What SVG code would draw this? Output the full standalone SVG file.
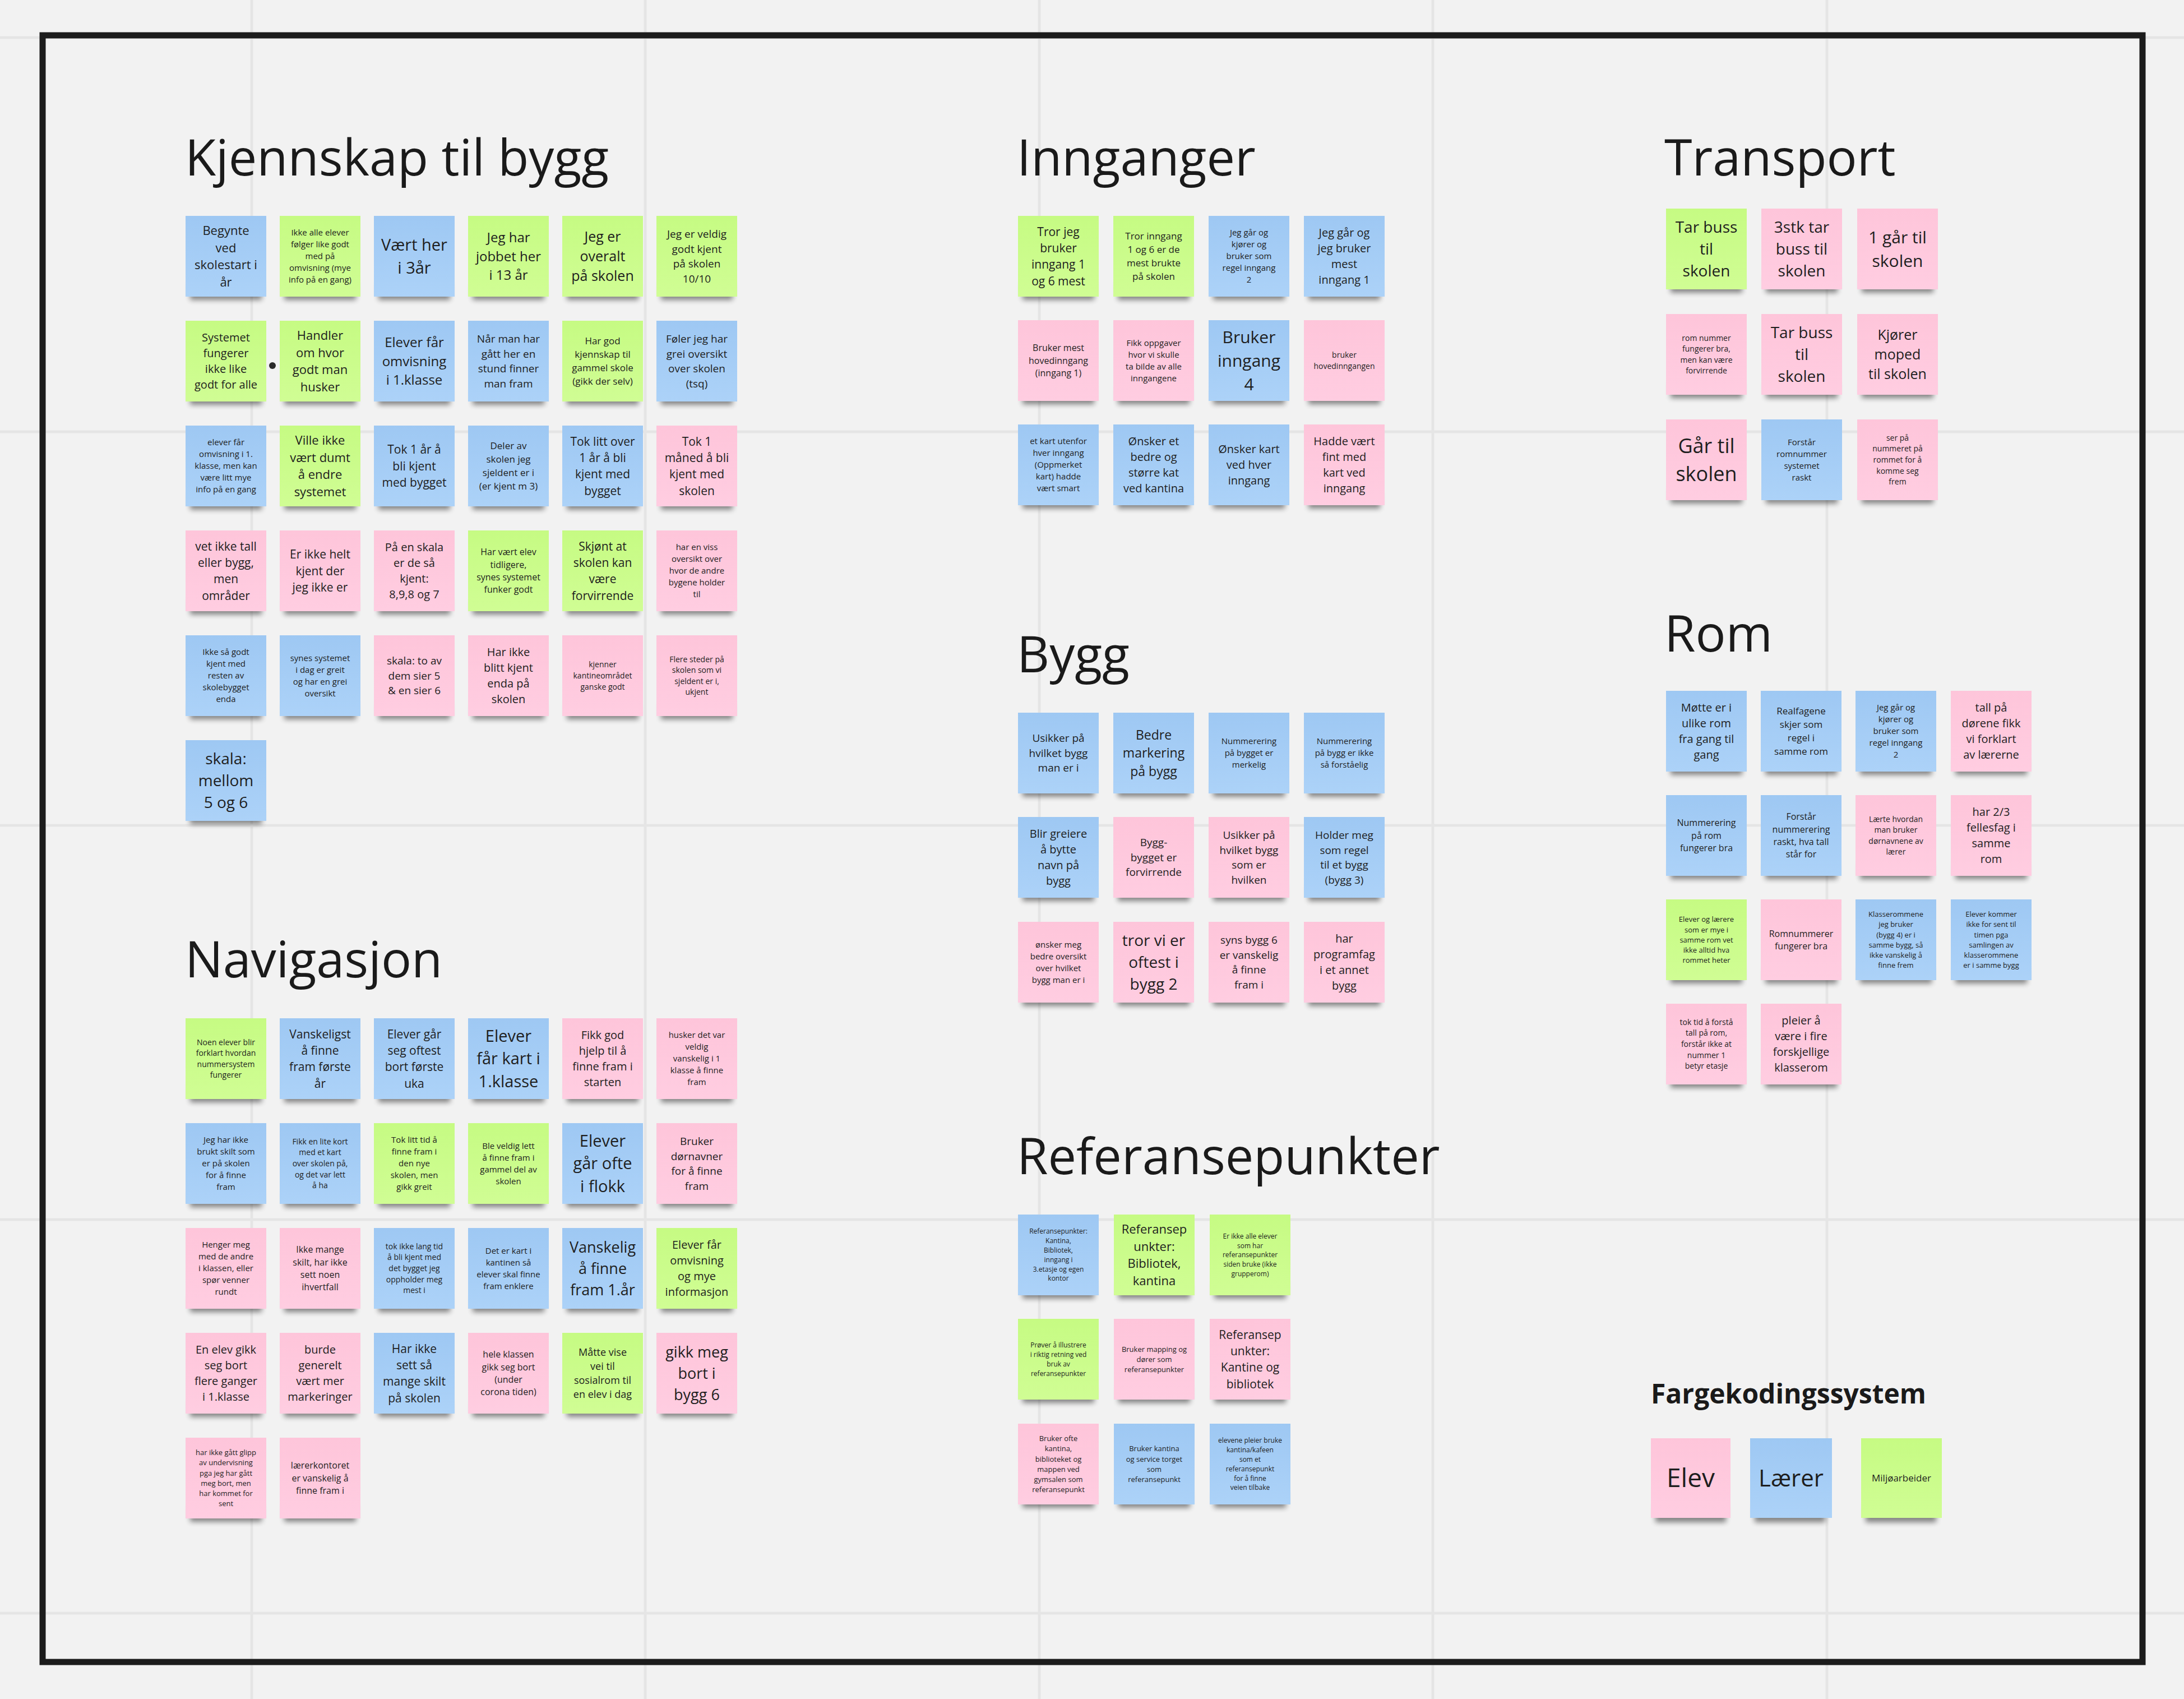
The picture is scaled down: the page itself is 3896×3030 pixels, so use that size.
<svg xmlns="http://www.w3.org/2000/svg" width="3896" height="3030" viewBox="0 0 3896 3030">
<defs>
<linearGradient id="gb" x1="0" y1="0" x2="0" y2="1"><stop offset="0" stop-color="#9ec8f3"/><stop offset="1" stop-color="#acd2f8"/></linearGradient>
<linearGradient id="gp" x1="0" y1="0" x2="0" y2="1"><stop offset="0" stop-color="#fec5da"/><stop offset="1" stop-color="#ffcde1"/></linearGradient>
<linearGradient id="gg" x1="0" y1="0" x2="0" y2="1"><stop offset="0" stop-color="#c6fb83"/><stop offset="1" stop-color="#d0fd94"/></linearGradient>
<filter id="blur" x="-20%" y="-60%" width="140%" height="220%"><feGaussianBlur stdDeviation="5"/></filter>
<style>
.bg{fill:#f2f2f2}
.grid{stroke:#e5e5e5;stroke-width:5}
.frame{fill:none;stroke:#1c1c1c;stroke-width:11}
.sd{fill:#000;opacity:.45;filter:url(#blur)}
.b{fill:url(#gb)}
.p{fill:url(#gp)}
.g{fill:url(#gg)}
.t{font-family:"Open Sans","Liberation Sans",sans-serif;text-anchor:middle;fill:#1e1e1e}
.h{font-family:"Open Sans","Liberation Sans",sans-serif;font-size:90px;fill:#1a1a1a}
.leg{font-family:"Open Sans","Liberation Sans",sans-serif;font-size:48px;font-weight:bold;fill:#1a1a1a}
</style>
</defs>
<rect class="bg" x="0" y="0" width="3896" height="3030"/>
<g id="grid">
<line class="grid" x1="449" y1="0" x2="449" y2="3030"/>
<line class="grid" x1="1151" y1="0" x2="1151" y2="3030"/>
<line class="grid" x1="1854" y1="0" x2="1854" y2="3030"/>
<line class="grid" x1="2556" y1="0" x2="2556" y2="3030"/>
<line class="grid" x1="3259" y1="0" x2="3259" y2="3030"/>
<line class="grid" x1="0" y1="67" x2="3896" y2="67"/>
<line class="grid" x1="0" y1="770" x2="3896" y2="770"/>
<line class="grid" x1="0" y1="1472" x2="3896" y2="1472"/>
<line class="grid" x1="0" y1="2175" x2="3896" y2="2175"/>
<line class="grid" x1="0" y1="2877" x2="3896" y2="2877"/>
</g>
<rect id="frame" class="frame" x="76" y="63" width="3746" height="2901"/>

<g id="titles">
<text class="h" x="330" y="313">Kjennskap til bygg</text>
<text class="h" x="330" y="1743">Navigasjon</text>
<text class="h" x="1814" y="313">Innganger</text>
<text class="h" x="1814" y="1199">Bygg</text>
<text class="h" x="1814" y="2094">Referansepunkter</text>
<text class="h" x="2969" y="313">Transport</text>
<text class="h" x="2969" y="1162">Rom</text>
<text class="leg" x="2945" y="2503">Fargekodingssystem</text>
</g>

<g id="connectors">
<circle cx="486" cy="652" r="6" fill="#2a2a2a"/>
</g>

<!-- Kjennskap til bygg -->
<g id="k11" transform="translate(331,385)"><rect class="sd" x="8" y="120" width="128" height="30"/><rect class="b" width="144" height="144"/><text class="t" font-size="22"><tspan x="72" y="34">Begynte</tspan><tspan x="72" y="65">ved</tspan><tspan x="72" y="95">skolestart i</tspan><tspan x="72" y="126">år</tspan></text></g>
<g id="k12" transform="translate(499,385)"><rect class="sd" x="8" y="120" width="128" height="30"/><rect class="g" width="144" height="144"/><text class="t" font-size="15"><tspan x="72" y="35">Ikke alle elever</tspan><tspan x="72" y="56">følger like godt</tspan><tspan x="72" y="77">med på</tspan><tspan x="72" y="98">omvisning (mye</tspan><tspan x="72" y="119">info på en gang)</tspan></text></g>
<g id="k13" transform="translate(667,385)"><rect class="sd" x="8" y="120" width="128" height="30"/><rect class="b" width="144" height="144"/><text class="t" font-size="29"><tspan x="72" y="62">Vært her</tspan><tspan x="72" y="103">i 3år</tspan></text></g>
<g id="k14" transform="translate(835,385)"><rect class="sd" x="8" y="120" width="128" height="30"/><rect class="g" width="144" height="144"/><text class="t" font-size="24"><tspan x="72" y="47">Jeg har</tspan><tspan x="72" y="81">jobbet her</tspan><tspan x="72" y="114">i 13 år</tspan></text></g>
<g id="k15" transform="translate(1003,385)"><rect class="sd" x="8" y="120" width="128" height="30"/><rect class="g" width="144" height="144"/><text class="t" font-size="25"><tspan x="72" y="46">Jeg er</tspan><tspan x="72" y="81">overalt</tspan><tspan x="72" y="116">på skolen</tspan></text></g>
<g id="k16" transform="translate(1171,385)"><rect class="sd" x="8" y="120" width="128" height="30"/><rect class="g" width="144" height="144"/><text class="t" font-size="19"><tspan x="72" y="39">Jeg er veldig</tspan><tspan x="72" y="66">godt kjent</tspan><tspan x="72" y="92">på skolen</tspan><tspan x="72" y="119">10/10</tspan></text></g>

<g id="k21" transform="translate(331,572)"><rect class="sd" x="8" y="120" width="128" height="30"/><rect class="g" width="144" height="144"/><text class="t" font-size="20"><tspan x="72" y="37">Systemet</tspan><tspan x="72" y="65">fungerer</tspan><tspan x="72" y="93">ikke like</tspan><tspan x="72" y="121">godt for alle</tspan></text></g>
<g id="k22" transform="translate(499,572)"><rect class="sd" x="8" y="120" width="128" height="30"/><rect class="g" width="144" height="144"/><text class="t" font-size="22"><tspan x="72" y="34">Handler</tspan><tspan x="72" y="65">om hvor</tspan><tspan x="72" y="95">godt man</tspan><tspan x="72" y="126">husker</tspan></text></g>
<g id="k23" transform="translate(667,572)"><rect class="sd" x="8" y="120" width="128" height="30"/><rect class="b" width="144" height="144"/><text class="t" font-size="24"><tspan x="72" y="47">Elever får</tspan><tspan x="72" y="81">omvisning</tspan><tspan x="72" y="114">i 1.klasse</tspan></text></g>
<g id="k24" transform="translate(835,572)"><rect class="sd" x="8" y="120" width="128" height="30"/><rect class="b" width="144" height="144"/><text class="t" font-size="19"><tspan x="72" y="39">Når man har</tspan><tspan x="72" y="66">gått her en</tspan><tspan x="72" y="92">stund finner</tspan><tspan x="72" y="119">man fram</tspan></text></g>
<g id="k25" transform="translate(1003,572)"><rect class="sd" x="8" y="120" width="128" height="30"/><rect class="g" width="144" height="144"/><text class="t" font-size="17"><tspan x="72" y="42">Har god</tspan><tspan x="72" y="66">kjennskap til</tspan><tspan x="72" y="90">gammel skole</tspan><tspan x="72" y="114">(gikk der selv)</tspan></text></g>
<g id="k26" transform="translate(1171,572)"><rect class="sd" x="8" y="120" width="128" height="30"/><rect class="b" width="144" height="144"/><text class="t" font-size="19"><tspan x="72" y="39">Føler jeg har</tspan><tspan x="72" y="66">grei oversikt</tspan><tspan x="72" y="92">over skolen</tspan><tspan x="72" y="119">(tsq)</tspan></text></g>

<g id="k31" transform="translate(331,759)"><rect class="sd" x="8" y="120" width="128" height="30"/><rect class="b" width="144" height="144"/><text class="t" font-size="15"><tspan x="72" y="35">elever får</tspan><tspan x="72" y="56">omvisning i 1.</tspan><tspan x="72" y="77">klasse, men kan</tspan><tspan x="72" y="98">være litt mye</tspan><tspan x="72" y="119">info på en gang</tspan></text></g>
<g id="k32" transform="translate(499,759)"><rect class="sd" x="8" y="120" width="128" height="30"/><rect class="g" width="144" height="144"/><text class="t" font-size="22"><tspan x="72" y="34">Ville ikke</tspan><tspan x="72" y="65">vært dumt</tspan><tspan x="72" y="95">å endre</tspan><tspan x="72" y="126">systemet</tspan></text></g>
<g id="k33" transform="translate(667,759)"><rect class="sd" x="8" y="120" width="128" height="30"/><rect class="b" width="144" height="144"/><text class="t" font-size="21"><tspan x="72" y="50">Tok 1 år å</tspan><tspan x="72" y="80">bli kjent</tspan><tspan x="72" y="109">med bygget</tspan></text></g>
<g id="k34" transform="translate(835,759)"><rect class="sd" x="8" y="120" width="128" height="30"/><rect class="b" width="144" height="144"/><text class="t" font-size="17"><tspan x="72" y="42">Deler av</tspan><tspan x="72" y="66">skolen jeg</tspan><tspan x="72" y="90">sjeldent er i</tspan><tspan x="72" y="114">(er kjent m 3)</tspan></text></g>
<g id="k35" transform="translate(1003,759)"><rect class="sd" x="8" y="120" width="128" height="30"/><rect class="b" width="144" height="144"/><text class="t" font-size="21"><tspan x="72" y="36">Tok litt over</tspan><tspan x="72" y="65">1 år å bli</tspan><tspan x="72" y="94">kjent med</tspan><tspan x="72" y="124">bygget</tspan></text></g>
<g id="k36" transform="translate(1171,759)"><rect class="sd" x="8" y="120" width="128" height="30"/><rect class="p" width="144" height="144"/><text class="t" font-size="21"><tspan x="72" y="36">Tok 1</tspan><tspan x="72" y="65">måned å bli</tspan><tspan x="72" y="94">kjent med</tspan><tspan x="72" y="124">skolen</tspan></text></g>

<g id="k41" transform="translate(331,946)"><rect class="sd" x="8" y="120" width="128" height="30"/><rect class="p" width="144" height="144"/><text class="t" font-size="21"><tspan x="72" y="36">vet ikke tall</tspan><tspan x="72" y="65">eller bygg,</tspan><tspan x="72" y="94">men</tspan><tspan x="72" y="124">områder</tspan></text></g>
<g id="k42" transform="translate(499,946)"><rect class="sd" x="8" y="120" width="128" height="30"/><rect class="p" width="144" height="144"/><text class="t" font-size="21"><tspan x="72" y="50">Er ikke helt</tspan><tspan x="72" y="80">kjent der</tspan><tspan x="72" y="109">jeg ikke er</tspan></text></g>
<g id="k43" transform="translate(667,946)"><rect class="sd" x="8" y="120" width="128" height="30"/><rect class="p" width="144" height="144"/><text class="t" font-size="20"><tspan x="72" y="37">På en skala</tspan><tspan x="72" y="65">er de så</tspan><tspan x="72" y="93">kjent:</tspan><tspan x="72" y="121">8,9,8 og 7</tspan></text></g>
<g id="k44" transform="translate(835,946)"><rect class="sd" x="8" y="120" width="128" height="30"/><rect class="g" width="144" height="144"/><text class="t" font-size="16"><tspan x="72" y="44">Har vært elev</tspan><tspan x="72" y="67">tidligere,</tspan><tspan x="72" y="89">synes systemet</tspan><tspan x="72" y="111">funker godt</tspan></text></g>
<g id="k45" transform="translate(1003,946)"><rect class="sd" x="8" y="120" width="128" height="30"/><rect class="g" width="144" height="144"/><text class="t" font-size="21"><tspan x="72" y="36">Skjønt at</tspan><tspan x="72" y="65">skolen kan</tspan><tspan x="72" y="94">være</tspan><tspan x="72" y="124">forvirrende</tspan></text></g>
<g id="k46" transform="translate(1171,946)"><rect class="sd" x="8" y="120" width="128" height="30"/><rect class="p" width="144" height="144"/><text class="t" font-size="15"><tspan x="72" y="35">har en viss</tspan><tspan x="72" y="56">oversikt over</tspan><tspan x="72" y="77">hvor de andre</tspan><tspan x="72" y="98">bygene holder</tspan><tspan x="72" y="119">til</tspan></text></g>

<g id="k51" transform="translate(331,1133)"><rect class="sd" x="8" y="120" width="128" height="30"/><rect class="b" width="144" height="144"/><text class="t" font-size="15"><tspan x="72" y="35">Ikke så godt</tspan><tspan x="72" y="56">kjent med</tspan><tspan x="72" y="77">resten av</tspan><tspan x="72" y="98">skolebygget</tspan><tspan x="72" y="119">enda</tspan></text></g>
<g id="k52" transform="translate(499,1133)"><rect class="sd" x="8" y="120" width="128" height="30"/><rect class="b" width="144" height="144"/><text class="t" font-size="15"><tspan x="72" y="46">synes systemet</tspan><tspan x="72" y="67">i dag er greit</tspan><tspan x="72" y="88">og har en grei</tspan><tspan x="72" y="109">oversikt</tspan></text></g>
<g id="k53" transform="translate(667,1133)"><rect class="sd" x="8" y="120" width="128" height="30"/><rect class="p" width="144" height="144"/><text class="t" font-size="19"><tspan x="72" y="52">skala: to av</tspan><tspan x="72" y="79">dem sier 5</tspan><tspan x="72" y="105">&amp; en sier 6</tspan></text></g>
<g id="k54" transform="translate(835,1133)"><rect class="sd" x="8" y="120" width="128" height="30"/><rect class="p" width="144" height="144"/><text class="t" font-size="20"><tspan x="72" y="37">Har ikke</tspan><tspan x="72" y="65">blitt kjent</tspan><tspan x="72" y="93">enda på</tspan><tspan x="72" y="121">skolen</tspan></text></g>
<g id="k55" transform="translate(1003,1133)"><rect class="sd" x="8" y="120" width="128" height="30"/><rect class="p" width="144" height="144"/><text class="t" font-size="14"><tspan x="72" y="57">kjenner</tspan><tspan x="72" y="77">kantineområdet</tspan><tspan x="72" y="97">ganske godt</tspan></text></g>
<g id="k56" transform="translate(1171,1133)"><rect class="sd" x="8" y="120" width="128" height="30"/><rect class="p" width="144" height="144"/><text class="t" font-size="14"><tspan x="72" y="48">Flere steder på</tspan><tspan x="72" y="67">skolen som vi</tspan><tspan x="72" y="87">sjeldent er i,</tspan><tspan x="72" y="106">ukjent</tspan></text></g>

<g id="k61" transform="translate(331,1320)"><rect class="sd" x="8" y="120" width="128" height="30"/><rect class="b" width="144" height="144"/><text class="t" font-size="28"><tspan x="72" y="43">skala:</tspan><tspan x="72" y="82">mellom</tspan><tspan x="72" y="121">5 og 6</tspan></text></g>

<!-- Navigasjon -->
<g id="n11" transform="translate(331,1816)"><rect class="sd" x="8" y="120" width="128" height="30"/><rect class="g" width="144" height="144"/><text class="t" font-size="14"><tspan x="72" y="48">Noen elever blir</tspan><tspan x="72" y="67">forklart hvordan</tspan><tspan x="72" y="87">nummersystem</tspan><tspan x="72" y="106">fungerer</tspan></text></g>
<g id="n12" transform="translate(499,1816)"><rect class="sd" x="8" y="120" width="128" height="30"/><rect class="b" width="144" height="144"/><text class="t" font-size="21"><tspan x="72" y="36">Vanskeligst</tspan><tspan x="72" y="65">å finne</tspan><tspan x="72" y="94">fram første</tspan><tspan x="72" y="124">år</tspan></text></g>
<g id="n13" transform="translate(667,1816)"><rect class="sd" x="8" y="120" width="128" height="30"/><rect class="b" width="144" height="144"/><text class="t" font-size="21"><tspan x="72" y="36">Elever går</tspan><tspan x="72" y="65">seg oftest</tspan><tspan x="72" y="94">bort første</tspan><tspan x="72" y="124">uka</tspan></text></g>
<g id="n14" transform="translate(835,1816)"><rect class="sd" x="8" y="120" width="128" height="30"/><rect class="b" width="144" height="144"/><text class="t" font-size="29"><tspan x="72" y="42">Elever</tspan><tspan x="72" y="82">får kart i</tspan><tspan x="72" y="123">1.klasse</tspan></text></g>
<g id="n15" transform="translate(1003,1816)"><rect class="sd" x="8" y="120" width="128" height="30"/><rect class="p" width="144" height="144"/><text class="t" font-size="20"><tspan x="72" y="37">Fikk god</tspan><tspan x="72" y="65">hjelp til å</tspan><tspan x="72" y="93">finne fram i</tspan><tspan x="72" y="121">starten</tspan></text></g>
<g id="n16" transform="translate(1171,1816)"><rect class="sd" x="8" y="120" width="128" height="30"/><rect class="p" width="144" height="144"/><text class="t" font-size="15"><tspan x="72" y="35">husker det var</tspan><tspan x="72" y="56">veldig</tspan><tspan x="72" y="77">vanskelig i 1</tspan><tspan x="72" y="98">klasse å finne</tspan><tspan x="72" y="119">fram</tspan></text></g>

<g id="n21" transform="translate(331,2003)"><rect class="sd" x="8" y="120" width="128" height="30"/><rect class="b" width="144" height="144"/><text class="t" font-size="15"><tspan x="72" y="35">Jeg har ikke</tspan><tspan x="72" y="56">brukt skilt som</tspan><tspan x="72" y="77">er på skolen</tspan><tspan x="72" y="98">for å finne</tspan><tspan x="72" y="119">fram</tspan></text></g>
<g id="n22" transform="translate(499,2003)"><rect class="sd" x="8" y="120" width="128" height="30"/><rect class="b" width="144" height="144"/><text class="t" font-size="14"><tspan x="72" y="38">Fikk en lite kort</tspan><tspan x="72" y="57">med et kart</tspan><tspan x="72" y="77">over skolen på,</tspan><tspan x="72" y="97">og det var lett</tspan><tspan x="72" y="116">å ha</tspan></text></g>
<g id="n23" transform="translate(667,2003)"><rect class="sd" x="8" y="120" width="128" height="30"/><rect class="g" width="144" height="144"/><text class="t" font-size="15"><tspan x="72" y="35">Tok litt tid å</tspan><tspan x="72" y="56">finne fram i</tspan><tspan x="72" y="77">den nye</tspan><tspan x="72" y="98">skolen, men</tspan><tspan x="72" y="119">gikk greit</tspan></text></g>
<g id="n24" transform="translate(835,2003)"><rect class="sd" x="8" y="120" width="128" height="30"/><rect class="g" width="144" height="144"/><text class="t" font-size="15"><tspan x="72" y="46">Ble veldig lett</tspan><tspan x="72" y="67">å finne fram i</tspan><tspan x="72" y="88">gammel del av</tspan><tspan x="72" y="109">skolen</tspan></text></g>
<g id="n25" transform="translate(1003,2003)"><rect class="sd" x="8" y="120" width="128" height="30"/><rect class="b" width="144" height="144"/><text class="t" font-size="29"><tspan x="72" y="42">Elever</tspan><tspan x="72" y="82">går ofte</tspan><tspan x="72" y="123">i flokk</tspan></text></g>
<g id="n26" transform="translate(1171,2003)"><rect class="sd" x="8" y="120" width="128" height="30"/><rect class="p" width="144" height="144"/><text class="t" font-size="19"><tspan x="72" y="39">Bruker</tspan><tspan x="72" y="66">dørnavner</tspan><tspan x="72" y="92">for å finne</tspan><tspan x="72" y="119">fram</tspan></text></g>

<g id="n31" transform="translate(331,2190)"><rect class="sd" x="8" y="120" width="128" height="30"/><rect class="p" width="144" height="144"/><text class="t" font-size="15"><tspan x="72" y="35">Henger meg</tspan><tspan x="72" y="56">med de andre</tspan><tspan x="72" y="77">i klassen, eller</tspan><tspan x="72" y="98">spør venner</tspan><tspan x="72" y="119">rundt</tspan></text></g>
<g id="n32" transform="translate(499,2190)"><rect class="sd" x="8" y="120" width="128" height="30"/><rect class="p" width="144" height="144"/><text class="t" font-size="16"><tspan x="72" y="44">Ikke mange</tspan><tspan x="72" y="67">skilt, har ikke</tspan><tspan x="72" y="89">sett noen</tspan><tspan x="72" y="111">ihvertfall</tspan></text></g>
<g id="n33" transform="translate(667,2190)"><rect class="sd" x="8" y="120" width="128" height="30"/><rect class="b" width="144" height="144"/><text class="t" font-size="14"><tspan x="72" y="38">tok ikke lang tid</tspan><tspan x="72" y="57">å bli kjent med</tspan><tspan x="72" y="77">det bygget jeg</tspan><tspan x="72" y="97">oppholder meg</tspan><tspan x="72" y="116">mest i</tspan></text></g>
<g id="n34" transform="translate(835,2190)"><rect class="sd" x="8" y="120" width="128" height="30"/><rect class="b" width="144" height="144"/><text class="t" font-size="15"><tspan x="72" y="46">Det er kart i</tspan><tspan x="72" y="67">kantinen så</tspan><tspan x="72" y="88">elever skal finne</tspan><tspan x="72" y="109">fram enklere</tspan></text></g>
<g id="n35" transform="translate(1003,2190)"><rect class="sd" x="8" y="120" width="128" height="30"/><rect class="b" width="144" height="144"/><text class="t" font-size="27"><tspan x="72" y="44">Vanskelig</tspan><tspan x="72" y="82">å finne</tspan><tspan x="72" y="120">fram 1.år</tspan></text></g>
<g id="n36" transform="translate(1171,2190)"><rect class="sd" x="8" y="120" width="128" height="30"/><rect class="g" width="144" height="144"/><text class="t" font-size="20"><tspan x="72" y="37">Elever får</tspan><tspan x="72" y="65">omvisning</tspan><tspan x="72" y="93">og mye</tspan><tspan x="72" y="121">informasjon</tspan></text></g>

<g id="n41" transform="translate(331,2377)"><rect class="sd" x="8" y="120" width="128" height="30"/><rect class="p" width="144" height="144"/><text class="t" font-size="20"><tspan x="72" y="37">En elev gikk</tspan><tspan x="72" y="65">seg bort</tspan><tspan x="72" y="93">flere ganger</tspan><tspan x="72" y="121">i 1.klasse</tspan></text></g>
<g id="n42" transform="translate(499,2377)"><rect class="sd" x="8" y="120" width="128" height="30"/><rect class="p" width="144" height="144"/><text class="t" font-size="20"><tspan x="72" y="37">burde</tspan><tspan x="72" y="65">generelt</tspan><tspan x="72" y="93">vært mer</tspan><tspan x="72" y="121">markeringer</tspan></text></g>
<g id="n43" transform="translate(667,2377)"><rect class="sd" x="8" y="120" width="128" height="30"/><rect class="b" width="144" height="144"/><text class="t" font-size="21"><tspan x="72" y="36">Har ikke</tspan><tspan x="72" y="65">sett så</tspan><tspan x="72" y="94">mange skilt</tspan><tspan x="72" y="124">på skolen</tspan></text></g>
<g id="n44" transform="translate(835,2377)"><rect class="sd" x="8" y="120" width="128" height="30"/><rect class="p" width="144" height="144"/><text class="t" font-size="16"><tspan x="72" y="44">hele klassen</tspan><tspan x="72" y="67">gikk seg bort</tspan><tspan x="72" y="89">(under</tspan><tspan x="72" y="111">corona tiden)</tspan></text></g>
<g id="n45" transform="translate(1003,2377)"><rect class="sd" x="8" y="120" width="128" height="30"/><rect class="g" width="144" height="144"/><text class="t" font-size="18"><tspan x="72" y="41">Måtte vise</tspan><tspan x="72" y="66">vei til</tspan><tspan x="72" y="91">sosialrom til</tspan><tspan x="72" y="116">en elev i dag</tspan></text></g>
<g id="n46" transform="translate(1171,2377)"><rect class="sd" x="8" y="120" width="128" height="30"/><rect class="p" width="144" height="144"/><text class="t" font-size="27"><tspan x="72" y="44">gikk meg</tspan><tspan x="72" y="82">bort i</tspan><tspan x="72" y="120">bygg 6</tspan></text></g>

<g id="n51" transform="translate(331,2564)"><rect class="sd" x="8" y="120" width="128" height="30"/><rect class="p" width="144" height="144"/><text class="t" font-size="13"><tspan x="72" y="31">har ikke gått glipp</tspan><tspan x="72" y="49">av undervisning</tspan><tspan x="72" y="68">pga jeg har gått</tspan><tspan x="72" y="86">meg bort, men</tspan><tspan x="72" y="104">har kommet for</tspan><tspan x="72" y="122">sent</tspan></text></g>
<g id="n52" transform="translate(499,2564)"><rect class="sd" x="8" y="120" width="128" height="30"/><rect class="p" width="144" height="144"/><text class="t" font-size="16"><tspan x="72" y="55">lærerkontoret</tspan><tspan x="72" y="78">er vanskelig å</tspan><tspan x="72" y="100">finne fram i</tspan></text></g>

<!-- Innganger -->
<g id="i11" transform="translate(1816,385)"><rect class="sd" x="8" y="120" width="128" height="30"/><rect class="g" width="144" height="144"/><text class="t" font-size="21"><tspan x="72" y="36">Tror jeg</tspan><tspan x="72" y="65">bruker</tspan><tspan x="72" y="94">inngang 1</tspan><tspan x="72" y="124">og 6 mest</tspan></text></g>
<g id="i12" transform="translate(1986,385)"><rect class="sd" x="8" y="120" width="128" height="30"/><rect class="g" width="144" height="144"/><text class="t" font-size="17"><tspan x="72" y="42">Tror inngang</tspan><tspan x="72" y="66">1 og 6 er de</tspan><tspan x="72" y="90">mest brukte</tspan><tspan x="72" y="114">på skolen</tspan></text></g>
<g id="i13" transform="translate(2156,385)"><rect class="sd" x="8" y="120" width="128" height="30"/><rect class="b" width="144" height="144"/><text class="t" font-size="15"><tspan x="72" y="35">Jeg går og</tspan><tspan x="72" y="56">kjører og</tspan><tspan x="72" y="77">bruker som</tspan><tspan x="72" y="98">regel inngang</tspan><tspan x="72" y="119">2</tspan></text></g>
<g id="i14" transform="translate(2326,385)"><rect class="sd" x="8" y="120" width="128" height="30"/><rect class="b" width="144" height="144"/><text class="t" font-size="20"><tspan x="72" y="37">Jeg går og</tspan><tspan x="72" y="65">jeg bruker</tspan><tspan x="72" y="93">mest</tspan><tspan x="72" y="121">inngang 1</tspan></text></g>
<g id="i21" transform="translate(1816,571)"><rect class="sd" x="8" y="120" width="128" height="30"/><rect class="p" width="144" height="144"/><text class="t" font-size="16"><tspan x="72" y="55">Bruker mest</tspan><tspan x="72" y="78">hovedinngang</tspan><tspan x="72" y="100">(inngang 1)</tspan></text></g>
<g id="i22" transform="translate(1986,571)"><rect class="sd" x="8" y="120" width="128" height="30"/><rect class="p" width="144" height="144"/><text class="t" font-size="15"><tspan x="72" y="46">Fikk oppgaver</tspan><tspan x="72" y="67">hvor vi skulle</tspan><tspan x="72" y="88">ta bilde av alle</tspan><tspan x="72" y="109">inngangene</tspan></text></g>
<g id="i23" transform="translate(2156,571)"><rect class="sd" x="8" y="120" width="128" height="30"/><rect class="b" width="144" height="144"/><text class="t" font-size="30"><tspan x="72" y="41">Bruker</tspan><tspan x="72" y="83">inngang</tspan><tspan x="72" y="125">4</tspan></text></g>
<g id="i24" transform="translate(2326,571)"><rect class="sd" x="8" y="120" width="128" height="30"/><rect class="p" width="144" height="144"/><text class="t" font-size="14"><tspan x="72" y="67">bruker</tspan><tspan x="72" y="87">hovedinngangen</tspan></text></g>
<g id="i31" transform="translate(1816,757)"><rect class="sd" x="8" y="120" width="128" height="30"/><rect class="b" width="144" height="144"/><text class="t" font-size="15"><tspan x="72" y="35">et kart utenfor</tspan><tspan x="72" y="56">hver inngang</tspan><tspan x="72" y="77">(Oppmerket</tspan><tspan x="72" y="98">kart) hadde</tspan><tspan x="72" y="119">vært smart</tspan></text></g>
<g id="i32" transform="translate(1986,757)"><rect class="sd" x="8" y="120" width="128" height="30"/><rect class="b" width="144" height="144"/><text class="t" font-size="20"><tspan x="72" y="37">Ønsker et</tspan><tspan x="72" y="65">bedre og</tspan><tspan x="72" y="93">større kat</tspan><tspan x="72" y="121">ved kantina</tspan></text></g>
<g id="i33" transform="translate(2156,757)"><rect class="sd" x="8" y="120" width="128" height="30"/><rect class="b" width="144" height="144"/><text class="t" font-size="20"><tspan x="72" y="51">Ønsker kart</tspan><tspan x="72" y="79">ved hver</tspan><tspan x="72" y="107">inngang</tspan></text></g>
<g id="i34" transform="translate(2326,757)"><rect class="sd" x="8" y="120" width="128" height="30"/><rect class="p" width="144" height="144"/><text class="t" font-size="20"><tspan x="72" y="37">Hadde vært</tspan><tspan x="72" y="65">fint med</tspan><tspan x="72" y="93">kart ved</tspan><tspan x="72" y="121">inngang</tspan></text></g>

<!-- Bygg -->
<g id="b11" transform="translate(1816,1271)"><rect class="sd" x="8" y="120" width="128" height="30"/><rect class="b" width="144" height="144"/><text class="t" font-size="19"><tspan x="72" y="52">Usikker på</tspan><tspan x="72" y="79">hvilket bygg</tspan><tspan x="72" y="105">man er i</tspan></text></g>
<g id="b12" transform="translate(1986,1271)"><rect class="sd" x="8" y="120" width="128" height="30"/><rect class="b" width="144" height="144"/><text class="t" font-size="23"><tspan x="72" y="48">Bedre</tspan><tspan x="72" y="80">markering</tspan><tspan x="72" y="113">på bygg</tspan></text></g>
<g id="b13" transform="translate(2156,1271)"><rect class="sd" x="8" y="120" width="128" height="30"/><rect class="b" width="144" height="144"/><text class="t" font-size="15"><tspan x="72" y="56">Nummerering</tspan><tspan x="72" y="77">på bygget er</tspan><tspan x="72" y="98">merkelig</tspan></text></g>
<g id="b14" transform="translate(2326,1271)"><rect class="sd" x="8" y="120" width="128" height="30"/><rect class="b" width="144" height="144"/><text class="t" font-size="15"><tspan x="72" y="56">Nummerering</tspan><tspan x="72" y="77">på bygg er ikke</tspan><tspan x="72" y="98">så forståelig</tspan></text></g>
<g id="b21" transform="translate(1816,1457)"><rect class="sd" x="8" y="120" width="128" height="30"/><rect class="b" width="144" height="144"/><text class="t" font-size="20"><tspan x="72" y="37">Blir greiere</tspan><tspan x="72" y="65">å bytte</tspan><tspan x="72" y="93">navn på</tspan><tspan x="72" y="121">bygg</tspan></text></g>
<g id="b22" transform="translate(1986,1457)"><rect class="sd" x="8" y="120" width="128" height="30"/><rect class="p" width="144" height="144"/><text class="t" font-size="19"><tspan x="72" y="52">Bygg-</tspan><tspan x="72" y="79">bygget er</tspan><tspan x="72" y="105">forvirrende</tspan></text></g>
<g id="b23" transform="translate(2156,1457)"><rect class="sd" x="8" y="120" width="128" height="30"/><rect class="p" width="144" height="144"/><text class="t" font-size="19"><tspan x="72" y="39">Usikker på</tspan><tspan x="72" y="66">hvilket bygg</tspan><tspan x="72" y="92">som er</tspan><tspan x="72" y="119">hvilken</tspan></text></g>
<g id="b24" transform="translate(2326,1457)"><rect class="sd" x="8" y="120" width="128" height="30"/><rect class="b" width="144" height="144"/><text class="t" font-size="19"><tspan x="72" y="39">Holder meg</tspan><tspan x="72" y="66">som regel</tspan><tspan x="72" y="92">til et bygg</tspan><tspan x="72" y="119">(bygg 3)</tspan></text></g>
<g id="b31" transform="translate(1816,1644)"><rect class="sd" x="8" y="120" width="128" height="30"/><rect class="p" width="144" height="144"/><text class="t" font-size="15"><tspan x="72" y="46">ønsker meg</tspan><tspan x="72" y="67">bedre oversikt</tspan><tspan x="72" y="88">over hvilket</tspan><tspan x="72" y="109">bygg man er i</tspan></text></g>
<g id="b32" transform="translate(1986,1644)"><rect class="sd" x="8" y="120" width="128" height="30"/><rect class="p" width="144" height="144"/><text class="t" font-size="28"><tspan x="72" y="43">tror vi er</tspan><tspan x="72" y="82">oftest i</tspan><tspan x="72" y="121">bygg 2</tspan></text></g>
<g id="b33" transform="translate(2156,1644)"><rect class="sd" x="8" y="120" width="128" height="30"/><rect class="p" width="144" height="144"/><text class="t" font-size="19"><tspan x="72" y="39">syns bygg 6</tspan><tspan x="72" y="66">er vanskelig</tspan><tspan x="72" y="92">å finne</tspan><tspan x="72" y="119">fram i</tspan></text></g>
<g id="b34" transform="translate(2326,1644)"><rect class="sd" x="8" y="120" width="128" height="30"/><rect class="p" width="144" height="144"/><text class="t" font-size="20"><tspan x="72" y="37">har</tspan><tspan x="72" y="65">programfag</tspan><tspan x="72" y="93">i et annet</tspan><tspan x="72" y="121">bygg</tspan></text></g>

<!-- Referansepunkter -->
<g id="r11" transform="translate(1816,2166)"><rect class="sd" x="8" y="120" width="128" height="30"/><rect class="b" width="144" height="144"/><text class="t" font-size="12"><tspan x="72" y="34">Referansepunkter:</tspan><tspan x="72" y="51">Kantina,</tspan><tspan x="72" y="68">Bibliotek,</tspan><tspan x="72" y="85">inngang i</tspan><tspan x="72" y="102">3.etasje og egen</tspan><tspan x="72" y="118">kontor</tspan></text></g>
<g id="r12" transform="translate(1987,2166)"><rect class="sd" x="8" y="120" width="128" height="30"/><rect class="g" width="144" height="144"/><text class="t" font-size="22"><tspan x="72" y="34">Referansep</tspan><tspan x="72" y="65">unkter:</tspan><tspan x="72" y="95">Bibliotek,</tspan><tspan x="72" y="126">kantina</tspan></text></g>
<g id="r13" transform="translate(2158,2166)"><rect class="sd" x="8" y="120" width="128" height="30"/><rect class="g" width="144" height="144"/><text class="t" font-size="12"><tspan x="72" y="43">Er ikke alle elever</tspan><tspan x="72" y="60">som har</tspan><tspan x="72" y="76">referansepunkter</tspan><tspan x="72" y="93">siden bruke (ikke</tspan><tspan x="72" y="110">grupperom)</tspan></text></g>
<g id="r21" transform="translate(1816,2352)"><rect class="sd" x="8" y="120" width="128" height="30"/><rect class="g" width="144" height="144"/><text class="t" font-size="12"><tspan x="72" y="51">Prøver å illustrere</tspan><tspan x="72" y="68">i riktig retning ved</tspan><tspan x="72" y="85">bruk av</tspan><tspan x="72" y="102">referansepunkter</tspan></text></g>
<g id="r22" transform="translate(1987,2352)"><rect class="sd" x="8" y="120" width="128" height="30"/><rect class="p" width="144" height="144"/><text class="t" font-size="13"><tspan x="72" y="59">Bruker mapping og</tspan><tspan x="72" y="77">dører som</tspan><tspan x="72" y="95">referansepunkter</tspan></text></g>
<g id="r23" transform="translate(2158,2352)"><rect class="sd" x="8" y="120" width="128" height="30"/><rect class="p" width="144" height="144"/><text class="t" font-size="21"><tspan x="72" y="36">Referansep</tspan><tspan x="72" y="65">unkter:</tspan><tspan x="72" y="94">Kantine og</tspan><tspan x="72" y="124">bibliotek</tspan></text></g>
<g id="r31" transform="translate(1816,2539)"><rect class="sd" x="8" y="120" width="128" height="30"/><rect class="p" width="144" height="144"/><text class="t" font-size="13"><tspan x="72" y="31">Bruker ofte</tspan><tspan x="72" y="49">kantina,</tspan><tspan x="72" y="68">biblioteket og</tspan><tspan x="72" y="86">mappen ved</tspan><tspan x="72" y="104">gymsalen som</tspan><tspan x="72" y="122">referansepunkt</tspan></text></g>
<g id="r32" transform="translate(1987,2539)"><rect class="sd" x="8" y="120" width="128" height="30"/><rect class="b" width="144" height="144"/><text class="t" font-size="13"><tspan x="72" y="49">Bruker kantina</tspan><tspan x="72" y="68">og service torget</tspan><tspan x="72" y="86">som</tspan><tspan x="72" y="104">referansepunkt</tspan></text></g>
<g id="r33" transform="translate(2158,2539)"><rect class="sd" x="8" y="120" width="128" height="30"/><rect class="b" width="144" height="144"/><text class="t" font-size="12"><tspan x="72" y="34">elevene pleier bruke</tspan><tspan x="72" y="51">kantina/kafeen</tspan><tspan x="72" y="68">som et</tspan><tspan x="72" y="85">referansepunkt</tspan><tspan x="72" y="102">for å finne</tspan><tspan x="72" y="118">veien tilbake</tspan></text></g>

<!-- Transport -->
<g id="t11" transform="translate(2972,372)"><rect class="sd" x="8" y="120" width="128" height="30"/><rect class="g" width="144" height="144"/><text class="t" font-size="28"><tspan x="72" y="43">Tar buss</tspan><tspan x="72" y="82">til</tspan><tspan x="72" y="121">skolen</tspan></text></g>
<g id="t12" transform="translate(3142,372)"><rect class="sd" x="8" y="120" width="128" height="30"/><rect class="p" width="144" height="144"/><text class="t" font-size="28"><tspan x="72" y="43">3stk tar</tspan><tspan x="72" y="82">buss til</tspan><tspan x="72" y="121">skolen</tspan></text></g>
<g id="t13" transform="translate(3313,372)"><rect class="sd" x="8" y="120" width="128" height="30"/><rect class="p" width="144" height="144"/><text class="t" font-size="30"><tspan x="72" y="62">1 går til</tspan><tspan x="72" y="104">skolen</tspan></text></g>
<g id="t21" transform="translate(2972,560)"><rect class="sd" x="8" y="120" width="128" height="30"/><rect class="p" width="144" height="144"/><text class="t" font-size="14"><tspan x="72" y="48">rom nummer</tspan><tspan x="72" y="67">fungerer bra,</tspan><tspan x="72" y="87">men kan være</tspan><tspan x="72" y="106">forvirrende</tspan></text></g>
<g id="t22" transform="translate(3142,560)"><rect class="sd" x="8" y="120" width="128" height="30"/><rect class="p" width="144" height="144"/><text class="t" font-size="28"><tspan x="72" y="43">Tar buss</tspan><tspan x="72" y="82">til</tspan><tspan x="72" y="121">skolen</tspan></text></g>
<g id="t23" transform="translate(3313,560)"><rect class="sd" x="8" y="120" width="128" height="30"/><rect class="p" width="144" height="144"/><text class="t" font-size="25"><tspan x="72" y="46">Kjører</tspan><tspan x="72" y="81">moped</tspan><tspan x="72" y="116">til skolen</tspan></text></g>
<g id="t31" transform="translate(2972,748)"><rect class="sd" x="8" y="120" width="128" height="30"/><rect class="p" width="144" height="144"/><text class="t" font-size="36"><tspan x="72" y="60">Går til</tspan><tspan x="72" y="110">skolen</tspan></text></g>
<g id="t32" transform="translate(3142,748)"><rect class="sd" x="8" y="120" width="128" height="30"/><rect class="b" width="144" height="144"/><text class="t" font-size="15"><tspan x="72" y="46">Forstår</tspan><tspan x="72" y="67">romnummer</tspan><tspan x="72" y="88">systemet</tspan><tspan x="72" y="109">raskt</tspan></text></g>
<g id="t33" transform="translate(3313,748)"><rect class="sd" x="8" y="120" width="128" height="30"/><rect class="p" width="144" height="144"/><text class="t" font-size="14"><tspan x="72" y="38">ser på</tspan><tspan x="72" y="57">nummeret på</tspan><tspan x="72" y="77">rommet for å</tspan><tspan x="72" y="97">komme seg</tspan><tspan x="72" y="116">frem</tspan></text></g>

<!-- Rom -->
<g id="o11" transform="translate(2972,1232)"><rect class="sd" x="8" y="120" width="128" height="30"/><rect class="b" width="144" height="144"/><text class="t" font-size="20"><tspan x="72" y="37">Møtte er i</tspan><tspan x="72" y="65">ulike rom</tspan><tspan x="72" y="93">fra gang til</tspan><tspan x="72" y="121">gang</tspan></text></g>
<g id="o12" transform="translate(3141,1232)"><rect class="sd" x="8" y="120" width="128" height="30"/><rect class="b" width="144" height="144"/><text class="t" font-size="17"><tspan x="72" y="42">Realfagene</tspan><tspan x="72" y="66">skjer som</tspan><tspan x="72" y="90">regel i</tspan><tspan x="72" y="114">samme rom</tspan></text></g>
<g id="o13" transform="translate(3310,1232)"><rect class="sd" x="8" y="120" width="128" height="30"/><rect class="b" width="144" height="144"/><text class="t" font-size="15"><tspan x="72" y="35">Jeg går og</tspan><tspan x="72" y="56">kjører og</tspan><tspan x="72" y="77">bruker som</tspan><tspan x="72" y="98">regel inngang</tspan><tspan x="72" y="119">2</tspan></text></g>
<g id="o14" transform="translate(3480,1232)"><rect class="sd" x="8" y="120" width="128" height="30"/><rect class="p" width="144" height="144"/><text class="t" font-size="20"><tspan x="72" y="37">tall på</tspan><tspan x="72" y="65">dørene fikk</tspan><tspan x="72" y="93">vi forklart</tspan><tspan x="72" y="121">av lærerne</tspan></text></g>
<g id="o21" transform="translate(2972,1418)"><rect class="sd" x="8" y="120" width="128" height="30"/><rect class="b" width="144" height="144"/><text class="t" font-size="16"><tspan x="72" y="55">Nummerering</tspan><tspan x="72" y="78">på rom</tspan><tspan x="72" y="100">fungerer bra</tspan></text></g>
<g id="o22" transform="translate(3141,1418)"><rect class="sd" x="8" y="120" width="128" height="30"/><rect class="b" width="144" height="144"/><text class="t" font-size="16"><tspan x="72" y="44">Forstår</tspan><tspan x="72" y="67">nummerering</tspan><tspan x="72" y="89">raskt, hva tall</tspan><tspan x="72" y="111">står for</tspan></text></g>
<g id="o23" transform="translate(3310,1418)"><rect class="sd" x="8" y="120" width="128" height="30"/><rect class="p" width="144" height="144"/><text class="t" font-size="14"><tspan x="72" y="48">Lærte hvordan</tspan><tspan x="72" y="67">man bruker</tspan><tspan x="72" y="87">dørnavnene av</tspan><tspan x="72" y="106">lærer</tspan></text></g>
<g id="o24" transform="translate(3480,1418)"><rect class="sd" x="8" y="120" width="128" height="30"/><rect class="p" width="144" height="144"/><text class="t" font-size="20"><tspan x="72" y="37">har 2/3</tspan><tspan x="72" y="65">fellesfag i</tspan><tspan x="72" y="93">samme</tspan><tspan x="72" y="121">rom</tspan></text></g>
<g id="o31" transform="translate(2972,1604)"><rect class="sd" x="8" y="120" width="128" height="30"/><rect class="g" width="144" height="144"/><text class="t" font-size="13"><tspan x="72" y="40">Elever og lærere</tspan><tspan x="72" y="59">som er mye i</tspan><tspan x="72" y="77">samme rom vet</tspan><tspan x="72" y="95">ikke alltid hva</tspan><tspan x="72" y="113">rommet heter</tspan></text></g>
<g id="o32" transform="translate(3141,1604)"><rect class="sd" x="8" y="120" width="128" height="30"/><rect class="p" width="144" height="144"/><text class="t" font-size="16"><tspan x="72" y="67">Romnummerer</tspan><tspan x="72" y="89">fungerer bra</tspan></text></g>
<g id="o33" transform="translate(3310,1604)"><rect class="sd" x="8" y="120" width="128" height="30"/><rect class="b" width="144" height="144"/><text class="t" font-size="13"><tspan x="72" y="31">Klasserommene</tspan><tspan x="72" y="49">jeg bruker</tspan><tspan x="72" y="68">(bygg 4) er i</tspan><tspan x="72" y="86">samme bygg, så</tspan><tspan x="72" y="104">ikke vanskelig å</tspan><tspan x="72" y="122">finne frem</tspan></text></g>
<g id="o34" transform="translate(3480,1604)"><rect class="sd" x="8" y="120" width="128" height="30"/><rect class="b" width="144" height="144"/><text class="t" font-size="13"><tspan x="72" y="31">Elever kommer</tspan><tspan x="72" y="49">ikke for sent til</tspan><tspan x="72" y="68">timen pga</tspan><tspan x="72" y="86">samlingen av</tspan><tspan x="72" y="104">klasserommene</tspan><tspan x="72" y="122">er i samme bygg</tspan></text></g>
<g id="o41" transform="translate(2972,1790)"><rect class="sd" x="8" y="120" width="128" height="30"/><rect class="p" width="144" height="144"/><text class="t" font-size="14"><tspan x="72" y="38">tok tid å forstå</tspan><tspan x="72" y="57">tall på rom,</tspan><tspan x="72" y="77">forstår ikke at</tspan><tspan x="72" y="97">nummer 1</tspan><tspan x="72" y="116">betyr etasje</tspan></text></g>
<g id="o42" transform="translate(3141,1790)"><rect class="sd" x="8" y="120" width="128" height="30"/><rect class="p" width="144" height="144"/><text class="t" font-size="20"><tspan x="72" y="37">pleier å</tspan><tspan x="72" y="65">være i fire</tspan><tspan x="72" y="93">forskjellige</tspan><tspan x="72" y="121">klasserom</tspan></text></g>

<!-- Fargekodingssystem -->
<g id="legend-elev" transform="translate(2945,2565)"><rect class="sd" x="8" y="120" width="126" height="30"/><rect class="p" width="142" height="142"/><text class="t" font-size="46" x="71" y="87">Elev</text></g>
<g id="legend-laerer" transform="translate(3122,2565)"><rect class="sd" x="8" y="120" width="126" height="30"/><rect class="b" width="146" height="142"/><text class="t" font-size="42" x="73" y="86">Lærer</text></g>
<g id="legend-miljo" transform="translate(3320,2565)"><rect class="sd" x="8" y="120" width="126" height="30"/><rect class="g" width="144" height="142"/><text class="t" font-size="17" x="72" y="77">Miljøarbeider</text></g>
</svg>
